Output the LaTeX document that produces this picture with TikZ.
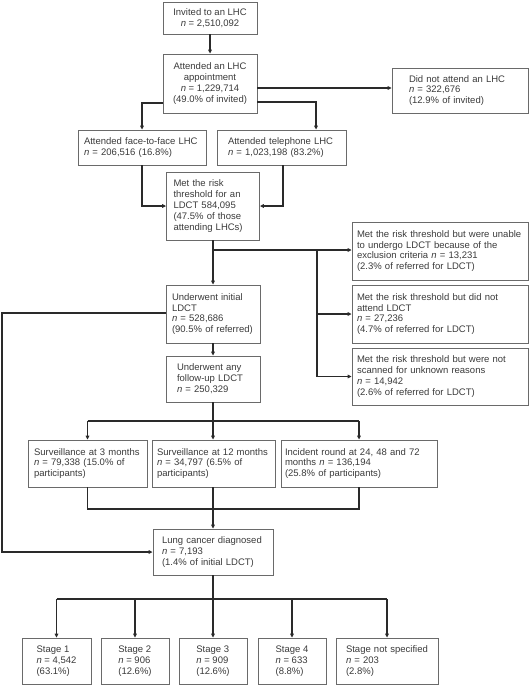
\documentclass[tikz,border=0pt]{standalone}
\usepackage{fontspec}
\setmainfont{Liberation Sans}
\usetikzlibrary{arrows.meta}
\definecolor{txt}{HTML}{3a3a3a}
\definecolor{bord}{HTML}{6a6a6a}
\definecolor{ln}{HTML}{2a2a2a}
\newcommand{\nn}{\textit{n}}
\hyphenpenalty=10000
\exhyphenpenalty=10000
\begin{document}
\begin{tikzpicture}[x=1pt,y=-1pt,
  box/.style={draw=bord,line width=0.8pt,inner sep=3pt,text=txt,align=left,
    font=\fontsize{9.5}{10.9}\selectfont},
  cbox/.style={box,align=center},
  conn/.style={draw=ln,line width=1.15pt},
  arr/.style={conn,-{Triangle[length=4pt,width=3.6pt]}}]
\useasboundingbox (0,0) rectangle (529,685);
% left-aligned box: name, cx, cy, width, height, padding, text
\newcommand{\lbx}[7]{\pgfmathsetmacro\tw{#4-2*#6}%
  \node[box,text width=\tw pt,inner xsep=#6pt,minimum height=#5pt] (#1) at (#2,#3) {#7};}
% nodes
\node[cbox,minimum width=94pt,minimum height=32pt] (b1) at (210,18) {Invited to an LHC\\\nn{} = 2,510,092};
\node[cbox,minimum width=94pt,minimum height=59pt] (b2) at (210,83.5) {Attended an LHC\\appointment\\\nn{} = 1,229,714\\(49.0\% of invited)};
\lbx{dna}{460}{90.5}{136}{45}{17}{Did not attend an LHC\\\nn{} = 322,676\\(12.9\% of invited)}
\lbx{f2f}{142}{147.5}{128}{35}{6}{Attended face-to-face LHC\\\nn{} = 206,516 (16.8\%)}
\lbx{tel}{281.5}{147.5}{129}{35}{11}{Attended telephone LHC\\\nn{} = 1,023,198 (83.2\%)}
\lbx{risk}{213}{206}{93}{68}{7}{Met the risk\\threshold for an\\LDCT 584,095\\(47.5\% of those\\attending LHCs)}
\lbx{r1}{440}{251}{176}{58}{5}{Met the risk threshold but were unable\\to undergo LDCT because of the\\exclusion criteria \nn{} = 13,231\\(2.3\% of referred for LDCT)}
\lbx{r2}{440}{314}{176}{58}{5}{Met the risk threshold but did not\\attend LDCT\\\nn{} = 27,236\\(4.7\% of referred for LDCT)}
\lbx{r3}{440}{376.5}{176}{57}{5}{Met the risk threshold but were not\\scanned for unknown reasons\\\nn{} = 14,942\\(2.6\% of referred for LDCT)}
\lbx{init}{213}{314}{94}{58}{6}{Underwent initial\\LDCT\\\nn{} = 528,686\\(90.5\% of referred)}
\lbx{fu}{213}{379}{94}{46}{11}{Underwent any\\follow-up LDCT\\\nn{} = 250,329}
\lbx{s1}{87.5}{463.5}{119}{47}{6}{Surveillance at 3 months\\\nn{} = 79,338 (15.0\% of\\participants)}
\lbx{s2}{213.5}{463.5}{123}{47}{5}{Surveillance at 12 months\\\nn{} = 34,797 (6.5\% of\\participants)}
\lbx{s3}{359}{463.5}{156}{47}{4}{Incident round at 24, 48 and 72\\months \nn{} = 136,194\\(25.8\% of participants)}
\lbx{lung}{213}{552}{120}{46}{9}{Lung cancer diagnosed\\\nn{} = 7,193\\(1.4\% of initial LDCT)}
\node[box,minimum width=69pt,minimum height=46pt] (st1) at (56.5,661) {Stage 1\\\nn{} = 4,542\\(63.1\%)};
\node[box,minimum width=68pt,minimum height=46pt] (st2) at (135,661) {Stage 2\\\nn{} = 906\\(12.6\%)};
\node[box,minimum width=68pt,minimum height=46pt] (st3) at (213,661) {Stage 3\\\nn{} = 909\\(12.6\%)};
\node[box,minimum width=68pt,minimum height=46pt] (st4) at (292,661) {Stage 4\\\nn{} = 633\\(8.8\%)};
\lbx{st5}{387}{661}{102}{46}{10}{Stage not specified\\\nn{} = 203\\(2.8\%)}
% junction coordinates
\coordinate (jr) at (213,250);
\coordinate (jv) at (317,250);
\coordinate (jf) at (213,421);
\coordinate (js) at (213,509);
\coordinate (jl) at (213,599);
\coordinate (lft) at (2,313);
% connectors
\draw[arr] (b1) -- (b2);
\draw[arr] (b2.east |- 0,88) -- (dna.west |- 0,88);
\draw[arr] (b2.west |- 0,103) -| (f2f.north);
\draw[arr] (b2.east |- 0,102) -| (tel.north -| 316,0);
\draw[arr] (f2f.south) |- (risk.west);
\draw[arr] (tel.south -| 283,0) |- (risk.east);
\draw[arr] (risk.south) -- (init.north);
\draw[arr] (jr) -- (r1.west |- jr);
\draw[arr] (jv) |- (r2.west);
\draw[arr] (jv) |- (r3.west);
\draw[arr] (init) -- (fu);
\draw[arr] (init.west |- lft) -- (lft) |- (lung.west);
\draw[conn] (fu.south) -- (jf);
\draw[conn] (s1.north |- jf) -- (s3.north |- jf);
\draw[arr] (s1.north |- jf) -- (s1.north);
\draw[arr] (jf) -- (s2.north -| jf);
\draw[arr] (s3.north |- jf) -- (s3.north);
\draw[conn] (s1.south) |- (s3.south |- js) -- (s3.south);
\draw[arr] (s2.south -| js) -- (lung.north);
\draw[conn] (lung.south) -- (jl);
\draw[conn] (st1.north |- jl) -- (st5.north |- jl);
\foreach \s in {st1,st2,st3,st4,st5} \draw[arr] (\s.north |- jl) -- (\s.north);
\end{tikzpicture}
\end{document}
